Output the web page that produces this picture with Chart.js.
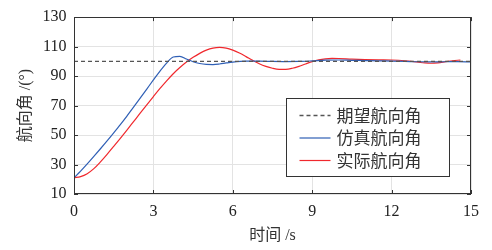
<!DOCTYPE html>
<html>
<head>
<meta charset="utf-8">
<script src="https://cdn.jsdelivr.net/npm/chart.js@4.4.0/dist/chart.umd.min.js"></script>
<style>
  html, body { margin: 0; padding: 0; background: #fff; }
</style>
</head>
<body>
<canvas id="headingChart" width="492" height="250"></canvas>
<script>
// 期望航向角
const targetTime = [0, 15];
const targetAngle = [100, 100];

// 仿真航向角
const simTime = [0, 0.25, 0.5, 0.75, 1, 1.25, 1.5, 1.75, 2, 2.25, 2.5, 2.75, 3, 3.25, 3.5, 3.75, 4, 4.25,
  4.5, 4.75, 5, 5.25, 5.5, 5.75, 6, 6.5, 7, 7.5, 8, 8.5, 9, 9.5, 10, 10.5, 11, 11.5, 12, 12.5, 13, 13.5, 14, 14.5, 15];
const simAngle = [21, 25.5, 30.4, 35.5, 40.7, 46, 51.5, 57.1, 62.9, 68.9, 75, 81.2, 87.4, 93.4, 98.8, 102.9, 103.4, 101.6,
  99.7, 98.5, 97.9, 97.8, 98.2, 98.9, 99.5, 100.1, 100.1, 99.9, 99.8, 99.9, 100.3, 100.8, 100.9, 100.7, 100.5, 100.3, 100.2, 100, 99.7, 99.6, 99.7, 99.8, 99.6];

// 实际航向角
const realTime = [0, 0.25, 0.5, 0.75, 1, 1.25, 1.5, 1.75, 2, 2.25, 2.5, 2.75, 3, 3.25, 3.5, 3.75, 4, 4.25,
  4.5, 4.75, 5, 5.25, 5.5, 5.75, 6, 6.25, 6.5, 6.75, 7, 7.25, 7.5, 7.75, 8, 8.25, 8.5, 8.75, 9, 9.25, 9.5, 9.75,
  10, 10.5, 11, 11.5, 12, 12.5, 13, 13.25, 13.5, 13.75, 14, 14.3, 14.6];
const realAngle = [21, 21.8, 23.8, 27.2, 31.8, 36.9, 42.3, 47.8, 53.4, 59.1, 64.8, 70.5, 76.1, 81.6, 86.8, 91.6, 95.8, 99.5,
  102.7, 105.4, 107.6, 109, 109.5, 109, 107.6, 105.6, 103.2, 100.7, 98.4, 96.6, 95.3, 94.6, 94.6, 95.3, 96.6, 98.2, 99.8, 101, 101.7, 102,
  101.9, 101.5, 101.2, 101, 100.9, 100.4, 99.4, 98.9, 98.7, 99, 99.6, 100.4, 100.9];

const xTicks = [0, 3, 6, 9, 12, 15];
const yTicks = [10, 30, 50, 70, 90, 110, 130];

const seriesNames = ['期望航向角', '仿真航向角', '实际航向角'];

const toPoints = (xs, ys) => xs.map((x, i) => ({ x: x, y: ys[i] }));

const serifFont = '"Liberation Serif", "Times New Roman", "Noto Sans CJK SC", serif';

// frame, inward ticks and the legend box, drawn MATLAB style
const framePlugin = {
  id: 'frame',
  afterDatasetsDraw(chart) {
    const { ctx, chartArea: a, scales } = chart;
    ctx.save();
    ctx.strokeStyle = '#333';
    ctx.lineWidth = 1;
    ctx.strokeRect(Math.round(a.left) + 0.5, Math.round(a.top) + 0.5,
      Math.round(a.right - a.left) - 1, Math.round(a.bottom - a.top) - 1);
    ctx.beginPath();
    xTicks.forEach(v => {
      const px = Math.round(scales.x.getPixelForValue(v)) + 0.5;
      ctx.moveTo(px, a.bottom); ctx.lineTo(px, a.bottom - 4);
      ctx.moveTo(px, a.top); ctx.lineTo(px, a.top + 4);
    });
    yTicks.forEach(v => {
      const py = Math.round(scales.y.getPixelForValue(v)) + 0.5;
      ctx.moveTo(a.left, py); ctx.lineTo(a.left + 4, py);
      ctx.moveTo(a.right, py); ctx.lineTo(a.right - 4, py);
    });
    ctx.stroke();

    // legend
    const bw = 163, bh = 78;
    const bx = Math.round(a.right - 22 - bw) + 0.5;
    const by = Math.round(a.top + 81) + 0.5;
    ctx.fillStyle = '#fff';
    ctx.fillRect(bx, by, bw, bh);
    ctx.strokeStyle = '#333';
    ctx.strokeRect(bx, by, bw, bh);
    ctx.font = '17px "Noto Sans CJK SC", sans-serif';
    ctx.textBaseline = 'middle';
    ctx.textAlign = 'left';
    chart.data.datasets.forEach((ds, i) => {
      const y = by + 17 + i * 22.5;
      ctx.beginPath();
      ctx.strokeStyle = ds.borderColor;
      ctx.lineWidth = ds.borderWidth;
      ctx.setLineDash(ds.borderDash || []);
      ctx.moveTo(bx + 13, y); ctx.lineTo(bx + 44, y);
      ctx.stroke();
      ctx.setLineDash([]);
      ctx.fillStyle = '#333';
      ctx.fillText(ds.label, bx + 50, y);
    });
    ctx.restore();
  }
};

new Chart(document.getElementById('headingChart'), {
  type: 'line',
  data: {
    datasets: [
      {
        label: seriesNames[0],
        data: toPoints(targetTime, targetAngle),
        borderColor: '#555',
        borderWidth: 1.3,
        borderDash: [4, 3],
        pointRadius: 0
      },
      {
        label: seriesNames[1],
        data: toPoints(simTime, simAngle),
        borderColor: '#2f5fb5',
        borderWidth: 1.2,
        cubicInterpolationMode: 'monotone',
        pointRadius: 0
      },
      {
        label: seriesNames[2],
        data: toPoints(realTime, realAngle),
        borderColor: '#f0282d',
        borderWidth: 1.2,
        cubicInterpolationMode: 'monotone',
        pointRadius: 0
      }
    ]
  },
  options: {
    responsive: false,
    animation: false,
    layout: { padding: { top: 15, right: 21, left: 0, bottom: 0 } },
    plugins: {
      legend: { display: false },
      tooltip: { enabled: false }
    },
    scales: {
      x: {
        type: 'linear',
        min: 0,
        max: 15,
        afterBuildTicks: s => { s.ticks = xTicks.map(v => ({ value: v })); },
        afterFit: s => { s.height = 56; },
        grid: { color: '#e3e3e3', drawTicks: false },
        border: { display: false },
        ticks: { padding: 8, color: '#222', font: { family: serifFont, size: 16 } },
        title: {
          display: true,
          text: '时间 /s',
          color: '#333',
          padding: { top: 0, bottom: 5 },
          font: { family: serifFont, size: 16 }
        }
      },
      y: {
        min: 10,
        max: 130,
        afterBuildTicks: s => { s.ticks = yTicks.map(v => ({ value: v })); },
        afterFit: s => { s.width = 74; },
        grid: { color: '#e3e3e3', drawTicks: false },
        border: { display: false },
        ticks: { padding: 7.5, color: '#222', font: { family: serifFont, size: 16 } },
        title: {
          display: true,
          text: '航向角 /(°)',
          color: '#333',
          padding: { top: 16, bottom: 0 },
          font: { family: serifFont, size: 16 }
        }
      }
    }
  },
  plugins: [framePlugin]
});
</script>
</body>
</html>
